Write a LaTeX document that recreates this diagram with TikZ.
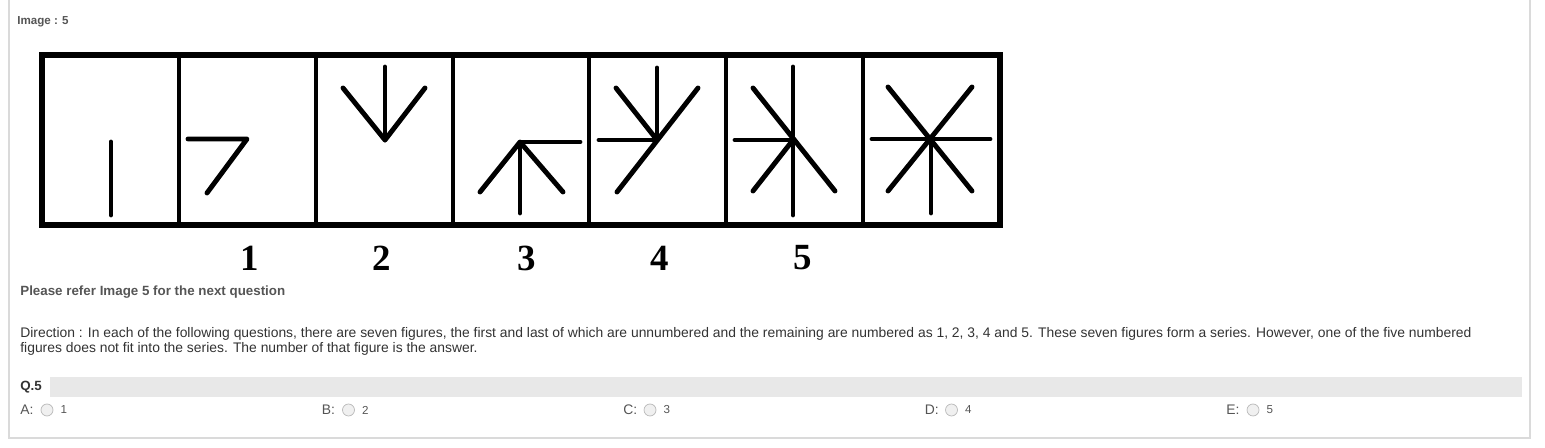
\documentclass[tikz,border=0pt]{standalone}
\usepackage{fontspec}
\setmainfont{Liberation Sans}
\newfontfamily\numfont{Liberation Serif}
\usetikzlibrary{positioning,fit}

\definecolor{textgray}{HTML}{555555}
\definecolor{textdark}{HTML}{333333}
\definecolor{bargray}{HTML}{E8E8E8}
\definecolor{framegray}{HTML}{DADADA}

\tikzset{
    cellbox/.style={draw, line width=2.2pt, minimum width=2.74cm, minimum height=3.4cm, inner sep=0pt, outer sep=0pt},
    figline/.style={line width=2.8pt, line cap=round, line join=round},
    txt/.style={anchor=west, inner sep=0pt, font=\fontsize{7.9}{9.5}\selectfont, text=textdark},
    radio/.style={circle, draw=gray!55, fill=gray!12, minimum size=0.24cm, inner sep=0pt}
}

\begin{document}
\begin{tikzpicture}[x=0.02cm, y=-0.02cm]
    \useasboundingbox (0,0) rectangle (1545,448);

    % Frame
    \draw[framegray, line width=0.6pt] (9,0) -- (9,438) -- (1530,438) -- (1530,0);

    % Heading
    \node[txt, font=\fontsize{6.6}{8}\selectfont\bfseries, text=textgray] (head) at (17,22) {Image : 5};

    % Cells
    \foreach \i in {0,...,6} {
        \node[cellbox] (cell\i) at (42+136.86*\i+68.43,140) {};
    }
    \draw[line width=3pt] (cell0.north west) rectangle (cell6.south east);

    % Figure 0
    \draw[figline] (111,142) -- (111,215);
    % Figure 1
    \draw[figline] (188,139) -- (247,139) -- (207,193);
    % Figure 2
    \draw[figline] (385,67) -- (385,140);
    \draw[figline] (343,88) -- (385,140) -- (425,88);
    % Figure 3
    \draw[figline] (580,142) -- (520,142) -- (520,213);
    \draw[figline] (480,192) -- (520,142) -- (563,192);
    % Figure 4
    \draw[figline] (599,140) -- (657,140);
    \draw[figline] (657,68) -- (657,140);
    \draw[figline] (616,88) -- (657,140);
    \draw[figline] (698,88) -- (617,192);
    % Figure 5
    \draw[figline] (735,140) -- (793,140);
    \draw[figline] (793,67) -- (793,215);
    \draw[figline] (753,88) -- (835,191);
    \draw[figline] (793,140) -- (753,191);
    % Figure 6
    \draw[figline] (872,139) -- (990,139);
    \draw[figline] (931,139) -- (931,213);
    \draw[figline] (888,87) -- (972,191);
    \draw[figline] (972,87) -- (888,191);

    % Numbers
    \foreach \i/\x in {1/250,2/382,3/527,4/660,5/803} {
        \node[font=\numfont\bfseries\fontsize{21}{21}\selectfont, inner sep=0pt] (num\i) at (\x,258) {\i};
    }

    % Question text
    \node[txt, font=\fontsize{7.6}{9}\selectfont\bfseries, text=textgray] (refer) at (20,292) {Please refer Image 5 for the next question};
    \node[txt] (dir1) at (20,334) {Direction : In each of the following questions, there are seven figures, the first and last of which are unnumbered and the remaining are numbered as 1, 2, 3, 4 and 5. These seven figures form a series. However, one of the five numbered};
    \node[txt] (dir2) at (20,349) {figures does not fit into the series. The number of that figure is the answer.};

    % Question bar
    \fill[bargray] (50,377) rectangle (1522,397);
    \node[txt, font=\fontsize{7.6}{9}\selectfont\bfseries] (qno) at (20,387) {Q.5};

    % Options
    \foreach \i/\l/\n in {0/A/1,1/B/2,2/C/3,3/D/4,4/E/5} {
        \node[txt, text=textgray] (opt\l) at (20+301.5*\i,410) {\l:};
        \node[radio] (radio\l) at (47+301.5*\i,410) {};
        \node[txt, right=0.14cm of radio\l, font=\fontsize{6.6}{8}\selectfont, text=textgray] (val\l) {\n};
    }
\end{tikzpicture}
\end{document}
